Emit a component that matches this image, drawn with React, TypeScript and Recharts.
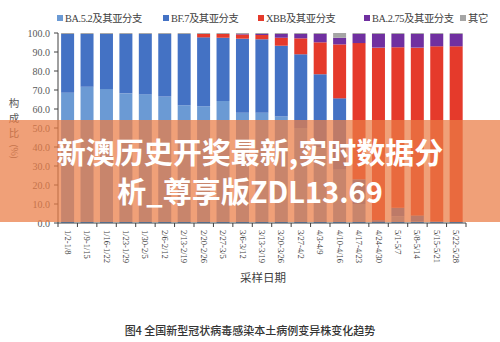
import React from "react";
import { BarChart, Bar, XAxis, YAxis } from "recharts";

const periods = [
  "1/2-1/8", "1/9-1/15", "1/16-1/22", "1/23-1/29", "1/30-2/5", "2/6-2/12", "2/13-2/19",
  "2/20-2/26", "2/27-3/5", "3/6-3/12", "3/13-3/19", "3/20-3/26", "3/27-4/2", "4/3-4/9",
  "4/10-4/16", "4/17-4/23", "4/24-4/30", "5/1-5/7", "5/8-5/14", "5/15-5/21", "5/22-5/28",
];
const ba52 = [68.6, 71.7, 70.5, 68.2, 67.7, 66.5, 62.0, 61.4, 64.2, 58.0, 58.0, 56.0, 50.0, 40.0, 28.0, 10.0, 0.5, 3.5, 1.0, 0.3, 0.2];
const bf7 = [30.9, 27.8, 29.0, 31.3, 31.8, 33.0, 37.5, 36.3, 33.3, 39.0, 38.7, 37.3, 38.8, 38.3, 37.6, 13.0, 1.0, 4.5, 3.0, 0.5, 0.3];
const xbb = [0, 0, 0, 0, 0, 0, 0, 1.8, 2.0, 2.2, 2.3, 4.2, 8.4, 16.8, 28.4, 71.7, 90.8, 84.5, 88.3, 92.2, 92.5];
const ba275 = [0, 0, 0, 0, 0, 0, 0, 0, 0, 0.3, 0.5, 2.0, 2.3, 4.4, 3.5, 4.8, 7.2, 7.0, 7.2, 6.5, 6.5];
const other = [0.5, 0.5, 0.5, 0.5, 0.5, 0.5, 0.5, 0.5, 0.5, 0.5, 0.5, 0.5, 0.5, 0.5, 2.5, 0.5, 0.5, 0.5, 0.5, 0.5, 0.5];
const yTicks = [0, 10, 20, 30, 40, 50, 60, 70, 80, 90, 100];

const series = [
  { key: "ba52", name: "BA.5.2及其亚分支", color: "#6b9ad4" },
  { key: "bf7", name: "BF.7及其亚分支", color: "#4472c4" },
  { key: "xbb", name: "XBB及其亚分支", color: "#e53a2b" },
  { key: "ba275", name: "BA.2.75及其亚分支", color: "#7030a0" },
  { key: "other", name: "其它", color: "#a5a5a5" },
];
const legendLeft = [57, 163, 258, 364, 460];

const data = periods.map((p, i) => ({
  period: p,
  ba52: ba52[i],
  bf7: bf7[i],
  xbb: xbb[i],
  ba275: ba275[i],
  other: other[i],
}));

const serif = '"Liberation Serif", "Noto Sans CJK SC", serif';
const sans = '"Noto Sans CJK SC", "Noto Sans", sans-serif';
const PLOT_W = 408;
const bw = PLOT_W / periods.length;

const PeriodTick = (props: any) => {
  const { x, y, payload, index } = props;
  const last = index === periods.length - 1;
  return (
    <g>
      <line x1={x - bw / 2} x2={x - bw / 2} y1={y} y2={y + 4} stroke="#404040" />
      {last && <line x1={x + bw / 2} x2={x + bw / 2} y1={y} y2={y + 4} stroke="#404040" />}
      <text
        x={x}
        y={y + 7}
        transform={`rotate(90, ${x}, ${y + 7})`}
        textAnchor="start"
        dominantBaseline="central"
        fontSize={8.5}
        fontFamily={serif}
        fill="#404040"
      >
        {payload.value}
      </text>
    </g>
  );
};

export default function App() {
  return (
    <div style={{ position: "relative", width: 500, height: 342, background: "#fff", overflow: "hidden" }}>
      <style>{`body{margin:0}`}</style>
      <BarChart width={500} height={342} data={data} barCategoryGap="16%" margin={{ top: 33, right: 34, bottom: 0, left: 0 }}>
        <XAxis
          dataKey="period"
          interval={0}
          height={119}
          tickLine={false}
          tickSize={0}
          tickMargin={0}
          axisLine={{ stroke: "#404040" }}
          tick={<PeriodTick />}
        />
        <YAxis
          width={58}
          domain={[0, 100]}
          ticks={yTicks}
          tickFormatter={(v) => Number(v).toFixed(1)}
          tick={{ fontSize: 10, fontFamily: serif, fill: "#595959" }}
          tickSize={4}
          tickMargin={4}
          axisLine={{ stroke: "#404040" }}
          tickLine={{ stroke: "#404040" }}
        />
        {series.map((s) => (
          <Bar key={s.key} dataKey={s.key} stackId="a" fill={s.color} isAnimationActive={false} />
        ))}
      </BarChart>

      {/* legend */}
      {series.map((s, i) => (
        <div
          key={s.key}
          style={{
            position: "absolute",
            left: legendLeft[i],
            top: 10,
            display: "flex",
            alignItems: "center",
            fontFamily: serif,
            fontSize: 10.3,
            letterSpacing: -0.4,
            color: "#404040",
            whiteSpace: "nowrap",
          }}
        >
          <span style={{ width: 6, height: 6, background: s.color, marginRight: 2 }} />
          {s.name}
        </div>
      ))}

      {/* y axis title */}
      <div
        style={{
          position: "absolute",
          left: 7,
          top: 95,
          width: 14,
          fontFamily: sans,
          fontSize: 10.5,
          lineHeight: "15px",
          color: "#595959",
          textAlign: "center",
        }}
      >
        <div style={{ height: 15 }}>构</div>
        <div style={{ height: 15 }}>成</div>
        <div style={{ height: 15 }}>比</div>
        <div style={{ transform: "rotate(90deg)", marginTop: 4, whiteSpace: "nowrap", fontSize: 9 }}>(%)</div>
      </div>

      {/* x axis title */}
      <div
        style={{
          position: "absolute",
          left: 0,
          width: 526,
          top: 269,
          textAlign: "center",
          fontFamily: sans,
          fontSize: 11.5,
          color: "#404040",
        }}
      >
        采样日期
      </div>

      {/* caption */}
      <div
        style={{
          position: "absolute",
          left: 0,
          width: 500,
          top: 322,
          textAlign: "center",
          fontFamily: sans,
          fontSize: 11,
          fontWeight: 500,
          color: "#333",
        }}
      >
        图4 全国新型冠状病毒感染本土病例变异株变化趋势
      </div>

      {/* overlay band */}
      <div
        style={{
          position: "absolute",
          left: 0,
          top: 120,
          width: 500,
          height: 102,
          background: "rgba(234,125,70,0.73)",
        }}
      />
      <div
        style={{
          position: "absolute",
          left: 0,
          top: 132,
          width: 500,
          textAlign: "center",
          fontFamily: sans,
          fontWeight: 700,
          fontSize: 29,
          lineHeight: "39px",
          color: "#fff",
        }}
      >
        <div>新澳历史开奖最新,实时数据分</div>
        <div>析_尊享版ZDL13.69</div>
      </div>
    </div>
  );
}
